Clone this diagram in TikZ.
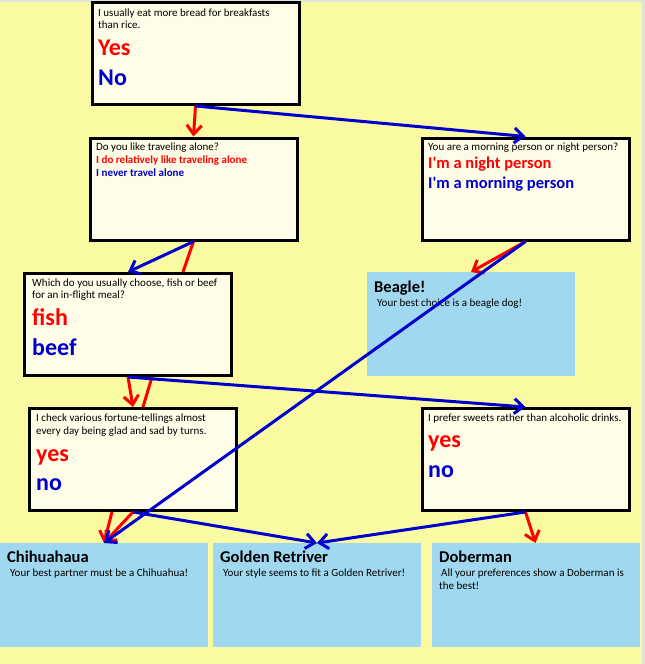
\documentclass[tikz,border=0pt]{standalone}
\usepackage{fontspec}
\setmainfont{Carlito}
\usetikzlibrary{arrows.meta}
\definecolor{bgyellow}{RGB}{250,250,162}
\definecolor{boxcream}{RGB}{255,253,232}
\definecolor{resblue}{RGB}{160,216,239}
\definecolor{yesred}{RGB}{255,0,0}
\definecolor{noblue}{RGB}{0,0,204}
\definecolor{edgegray}{RGB}{226,226,226}

\begin{document}
\begin{tikzpicture}
        [x=1pt, y=-1pt,
        question/.style={draw, line width=3pt, fill=boxcream, minimum width=207pt, minimum height=102pt, inner sep=0pt},
        result/.style={fill=resblue, minimum width=208pt, minimum height=104pt, inner sep=0pt, outer sep=0pt},
        txt/.style={anchor=base west, inner sep=0pt, font=\fontsize{11}{13}\selectfont},
        ans/.style={anchor=base west, inner sep=0pt, font=\bfseries\fontsize{24}{28}\selectfont},
        restitle/.style={anchor=base west, inner sep=0pt, font=\bfseries\fontsize{16.5}{20}\selectfont},
        yesline/.style={yesred, line width=3pt},
        noline/.style={noblue, line width=3pt},
        yesarrow/.style={yesline, -{Straight Barb[length=9pt, width=15pt]}},
        noarrow/.style={noline, -{Straight Barb[length=9pt, width=15pt]}}]

        \useasboundingbox (0,0) rectangle (645,664);
        \fill[edgegray] (0,0) rectangle (645,664);
        \fill[bgyellow] (0,1.5) rectangle (642,664);

        % question boxes
        \node[question] (q1) at (195.5,53.5) {};
        \node[question] (q2) at (193.5,189) {};
        \node[question] (q3) at (525.5,189) {};
        \node[question] (q4) at (128,324.5) {};
        \node[question] (q5) at (133,459.5) {};
        \node[question] (q6) at (525.5,459.5) {};

        % result boxes
        \node[result] (beagle) at (471,324) {};
        \node[result] (chi) at (104,595) {};
        \node[result] (golden) at (317,595) {};
        \node[result] (dober) at (535.5,595) {};

        % texts of the questions
        \node[txt] (q1a) at (98,16) {I usually eat more bread for breakfasts};
        \node[txt] (q1b) at (98,28) {than rice.};
        \node[ans, yesred] (q1yes) at (98,55) {Yes};
        \node[ans, noblue] (q1no) at (98,85) {No};

        \node[txt] (q2a) at (96,150) {Do you like traveling alone?};
        \node[txt, yesred, font=\bfseries\fontsize{11}{13}\selectfont] (q2yes) at (96,163) {I do relatively like traveling alone};
        \node[txt, noblue, font=\bfseries\fontsize{11}{13}\selectfont] (q2no) at (96,176) {I never travel alone};

        \node[txt] (q3a) at (428,150) {You are a morning person or night person?};
        \node[restitle, yesred] (q3yes) at (428,168) {I\textquotesingle m a night person};
        \node[restitle, noblue] (q3no) at (428,188) {I\textquotesingle m a morning person};

        \node[txt] (q4a) at (32,286) {Which do you usually choose, fish or beef};
        \node[txt] (q4b) at (32,298) {for an in-flight meal?};
        \node[ans, yesred] (q4yes) at (32,325) {fish};
        \node[ans, noblue] (q4no) at (32,355) {beef};

        \node[txt] (q5a) at (36,421) {I check various fortune-tellings almost};
        \node[txt] (q5b) at (36,434) {every day being glad and sad by turns.};
        \node[ans, yesred] (q5yes) at (36,461) {yes};
        \node[ans, noblue] (q5no) at (36,490) {no};

        \node[txt] (q6a) at (428,421) {I prefer sweets rather than alcoholic drinks.};
        \node[ans, yesred] (q6yes) at (428,447) {yes};
        \node[ans, noblue] (q6no) at (428,477) {no};

        % texts of the results
        \node[restitle] (beaglet) at (374,292) {Beagle!};
        \node[txt] (beagles) at (377,306) {Your best choice is a beagle dog!};
        \node[restitle] (chit) at (7,562) {Chihuahaua};
        \node[txt] (chis) at (10,576) {Your best partner must be a Chihuahua!};
        \node[restitle] (goldent) at (220,562) {Golden Retriver};
        \node[txt] (goldens) at (223,576) {Your style seems to fit a Golden Retriver!};
        \node[restitle] (dobert) at (439,562) {Doberman};
        \node[txt] (dobers) at (441,576) {All your preferences show a Doberman is};
        \node[txt] (dobers2) at (439,589) {the best!};

        % yes answers (red)
        \draw[yesarrow] (q1.south) -- (q2.north);
        \draw[yesline] (q2.south) -- ([xshift=55pt]q4.north);
        \draw[yesarrow] (q3.south) -- (beagle.north);
        \draw[yesarrow] (q4.south) -- (q5.north);
        \draw[yesline] ([xshift=24pt]q4.south) -- ([xshift=10pt]q5.north);
        \draw[yesarrow] ([xshift=-21pt]q5.south) -- (chi.north);
        \draw[yesarrow] (q5.south) -- (chi.north);
        \draw[yesarrow] (q6.south) -- (dober.north);

        % no answers (blue)
        \draw[noarrow] (q1.south) -- (q3.north);
        \draw[noarrow] (q2.south) -- (q4.north);
        \draw[noarrow] (q3.south) -- (chi.north);
        \draw[noarrow] (q4.south) -- (q6.north);
        \draw[noarrow] (q5.south) -- (golden.north);
        \draw[noarrow] (q6.south) -- (golden.north);

\end{tikzpicture}
\end{document}
